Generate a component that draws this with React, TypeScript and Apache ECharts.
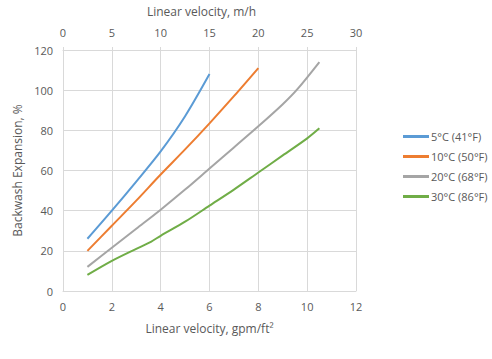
import React, { useEffect, useRef } from "react";
import * as echarts from "echarts";

const names = ["5°C (41°F)", "10°C (50°F)", "20°C (68°F)", "30°C (86°F)"];
const colors = ["#5B9BD5", "#ED7D31", "#A5A5A5", "#70AD47"];

const x5 = [1, 2, 3, 4, 5, 6];
const y5 = [26, 40, 54.5, 69.5, 87, 108];
const x10 = [1, 2, 3, 4, 5, 6, 7, 8];
const y10 = [20, 32.5, 45, 58, 70.5, 83.5, 97, 111];
const x20 = [1, 2, 3, 4, 5, 6, 7, 8, 9, 9.6, 10.5];
const y20 = [12, 21.5, 31, 40.5, 50.5, 61, 71.5, 82, 93, 100.5, 114];
const x30 = [1, 2, 3, 3.6, 4, 5, 6, 7, 8, 9, 10, 10.5];
const y30 = [8, 15, 21, 24.5, 27.5, 34.5, 42.5, 50.5, 59, 67.5, 76, 81];

const gpmTicks = { min: 0, max: 12, interval: 2 };
const mhTicks = { min: 0, max: 30, interval: 5 };
const yTicks = { min: 0, max: 120, interval: 20 };

const zip = (xs: number[], ys: number[]) => xs.map((x, i) => [x, ys[i]]);
const seriesData = [zip(x5, y5), zip(x10, y10), zip(x20, y20), zip(x30, y30)];

const FONT = "'Open Sans', 'Liberation Sans', sans-serif";
const TXT = "#595959";
const GRID = "#d9d9d9";

export default function App() {
  const ref = useRef<HTMLDivElement>(null);
  useEffect(() => {
    if (!ref.current) return;
    const chart = echarts.init(ref.current, undefined, { renderer: "svg" });
    chart.setOption({
      animation: false,
      textStyle: { fontFamily: FONT, color: TXT },
      grid: { left: 63, right: 136, top: 43, bottom: 68 },
      legend: {
        orient: "vertical",
        left: 398,
        top: 126,
        itemGap: 9,
        itemWidth: 26,
        itemHeight: 3,
        icon: "rect",
        data: names,
        textStyle: { fontFamily: FONT, color: TXT, fontSize: 11, padding: [0, 0, 0, -3] },
      },
      xAxis: [
        {
          type: "value",
          position: "bottom",
          ...gpmTicks,
          name: "Linear velocity, gpm/ft²",
          nameLocation: "middle",
          nameGap: 31,
          nameTextStyle: { fontFamily: FONT, color: TXT, fontSize: 12 },
          axisLine: { show: true, lineStyle: { color: GRID } },
          axisTick: { show: false },
          axisLabel: { color: TXT, fontSize: 11, fontFamily: FONT, margin: 10 },
          splitLine: { show: true, lineStyle: { color: GRID } },
        },
        {
          type: "value",
          position: "top",
          ...mhTicks,
          name: "Linear velocity, m/h",
          nameLocation: "middle",
          nameGap: 33,
          nameTextStyle: { fontFamily: FONT, color: TXT, fontSize: 12, padding: [0, 16, 0, 0] },
          axisLine: { show: true, lineStyle: { color: GRID } },
          axisTick: { show: true, length: 3, inside: false, lineStyle: { color: GRID } },
          axisLabel: { color: TXT, fontSize: 11, fontFamily: FONT, margin: 12 },
          splitLine: { show: false },
        },
      ],
      yAxis: {
        type: "value",
        ...yTicks,
        name: "Backwash Expansion, %",
        nameLocation: "middle",
        nameGap: 35,
        nameTextStyle: { fontFamily: FONT, color: TXT, fontSize: 12 },
        axisLine: { show: true, lineStyle: { color: GRID } },
        axisTick: { show: false },
        axisLabel: { color: TXT, fontSize: 11, fontFamily: FONT, margin: 10 },
        splitLine: { show: true, lineStyle: { color: GRID } },
      },
      series: names.map((n, i) => ({
        name: n,
        type: "line",
        xAxisIndex: 0,
        data: seriesData[i],
        smooth: 0.3,
        showSymbol: false,
        symbol: "none",
        lineStyle: { color: colors[i], width: 2 },
        itemStyle: { color: colors[i] },
      })),
    });
    return () => chart.dispose();
  }, []);
  return <div ref={ref} style={{ width: 492, height: 359, position: "absolute", left: 0, top: 0 }} />;
}
